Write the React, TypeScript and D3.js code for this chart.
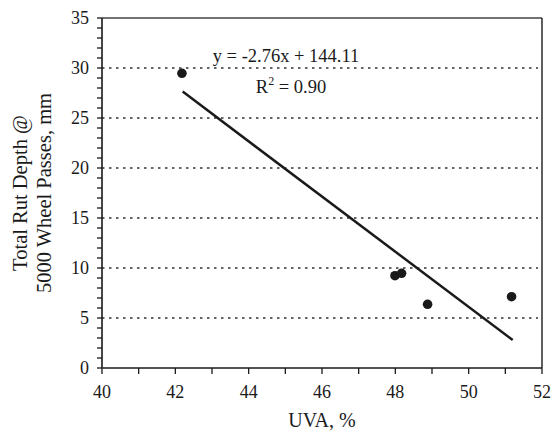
import React from "react";
import * as d3 from "d3";

// Measured mixes: air voids (UVA) vs. rut depth
const uva = [42.18, 47.99, 48.17, 48.88, 51.17];
const rutDepth = [29.47, 9.23, 9.47, 6.37, 7.13];

// Fitted trend: y = slope * x + intercept
const slope = -2.76;
const intercept = 144.11;
const fitRange = [42.2, 51.2];

const xTicks = [40, 42, 44, 46, 48, 50, 52];
const xMinorTicks = d3.range(40, 53, 1);
const yTicks = [0, 5, 10, 15, 20, 25, 30, 35];
const yMinorTicks = d3.range(0, 36, 1);
const gridValues = [5, 10, 15, 20, 25, 30];

const W = 553;
const H = 432;
const M = { left: 102, right: 542, top: 18, bottom: 368 };
const FONT = "'Liberation Serif', 'Times New Roman', serif";
const INK = "#1a1a1a";

export default function App() {
  const x = d3.scaleLinear().domain([40, 52]).range([M.left, M.right]);
  const y = d3.scaleLinear().domain([0, 35]).range([M.bottom, M.top]);

  const fitLine = d3
    .line<number>()
    .x((d) => x(d))
    .y((d) => y(slope * d + intercept));

  return (
    <svg
      width={W}
      height={H}
      style={{ position: "absolute", left: 0, top: 0, background: "#fff" }}
      fontFamily={FONT}
    >
      {/* dotted horizontal gridlines */}
      {gridValues.map((v) => (
        <line
          key={"g" + v}
          x1={M.left}
          x2={M.right - 4}
          y1={y(v)}
          y2={y(v)}
          stroke="#333"
          strokeWidth={1.3}
          strokeDasharray="2.5,4.5"
        />
      ))}

      {/* frame */}
      <line x1={M.left} x2={M.right} y1={M.top} y2={M.top} stroke="#444" strokeWidth={1.6} />
      <line x1={M.right} x2={M.right} y1={M.top} y2={M.bottom} stroke={INK} strokeWidth={1.4} />
      <line x1={M.left} x2={M.right} y1={M.bottom} y2={M.bottom} stroke={INK} strokeWidth={1.6} />
      <line x1={M.left} x2={M.left} y1={M.top} y2={M.bottom} stroke={INK} strokeWidth={1.6} />

      {/* x ticks */}
      {xMinorTicks.map((v) => (
        <line
          key={"xt" + v}
          x1={x(v)}
          x2={x(v)}
          y1={M.bottom}
          y2={M.bottom + 6}
          stroke={INK}
          strokeWidth={1.3}
        />
      ))}
      {xTicks.map((v) => (
        <text
          key={"xl" + v}
          x={x(v)}
          y={398}
          textAnchor="middle"
          fontSize={18}
          fill={INK}
        >
          {v}
        </text>
      ))}

      {/* y ticks */}
      {yMinorTicks.map((v) => (
        <line
          key={"yt" + v}
          x1={M.left - 5}
          x2={M.left}
          y1={y(v)}
          y2={y(v)}
          stroke={INK}
          strokeWidth={1.3}
        />
      ))}
      {yTicks.map((v) => (
        <text
          key={"yl" + v}
          x={89}
          y={y(v) + 6}
          textAnchor="end"
          fontSize={18}
          fill={INK}
        >
          {v}
        </text>
      ))}

      {/* regression line */}
      <path d={fitLine(fitRange) || ""} fill="none" stroke={INK} strokeWidth={2.5} />

      {/* observations */}
      {uva.map((v, i) => (
        <circle key={"p" + i} cx={x(v)} cy={y(rutDepth[i])} r={4.8} fill={INK} />
      ))}

      {/* equation labels */}
      <text x={286} y={62} textAnchor="middle" fontSize={18.5} fill={INK}>
        y = -2.76x + 144.11
      </text>
      <text x={291} y={93} textAnchor="middle" fontSize={18.5} fill={INK}>
        R<tspan dy={-8} fontSize={12}>2</tspan>
        <tspan dy={8}> = 0.90</tspan>
      </text>

      {/* axis titles */}
      <text x={322} y={427} textAnchor="middle" fontSize={20} fill={INK}>
        UVA, %
      </text>
      <text
        transform={`translate(27, ${(M.top + M.bottom) / 2}) rotate(-90)`}
        textAnchor="middle"
        fontSize={20.5}
        fill={INK}
      >
        Total Rut Depth @
      </text>
      <text
        transform={`translate(51, ${(M.top + M.bottom) / 2}) rotate(-90)`}
        textAnchor="middle"
        fontSize={20.5}
        fill={INK}
      >
        5000 Wheel Passes, mm
      </text>
    </svg>
  );
}
